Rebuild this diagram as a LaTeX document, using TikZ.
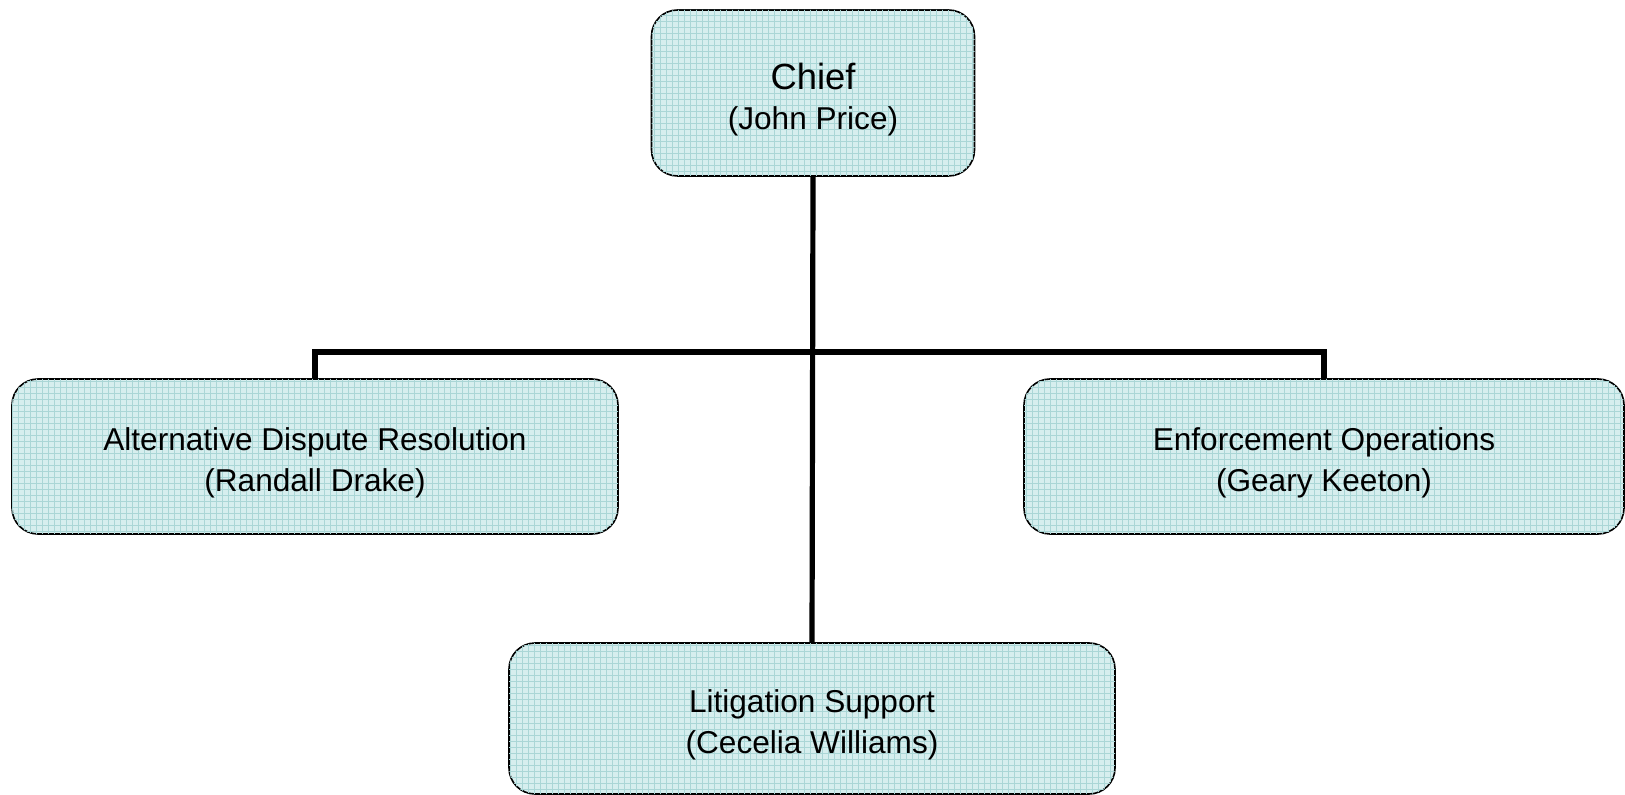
\documentclass[tikz,border=0pt]{standalone}
\usepackage{fontspec}
\setmainfont{Liberation Sans}
\usetikzlibrary{patterns}
\definecolor{boxcyan}{RGB}{214,238,238}
\definecolor{gridcyan}{RGB}{170,214,214}
\newcommand{\uplift}[1]{\rule{0pt}{#1}}
\tikzset{
	unit/.style={draw=black, line width=0.8pt, rounded corners=13pt, fill=boxcyan,
		postaction={pattern=grid, pattern color=gridcyan},
		align=center, font=\fontsize{15.8}{20.2}\selectfont, inner sep=0pt},
	wire/.style={line width=2.6pt, line join=miter}
}

\begin{document}
\begin{tikzpicture}[x=0.5pt, y=-0.5pt]
	\useasboundingbox (0,0) rectangle (1625,795);

	\node[unit, minimum width=161.5pt, minimum height=83pt] (chief) at (813,93)
		{\uplift{19.5pt}{\fontsize{18.2}{20.7}\selectfont Chief}\\(John Price)};
	\node[unit, minimum width=303pt, minimum height=77.5pt] (adr) at (315,456.5)
		{\uplift{17.7pt}Alternative Dispute Resolution\\(Randall Drake)};
	\node[unit, minimum width=300pt, minimum height=77.5pt] (enf) at (1324,456.5)
		{\uplift{17.7pt}Enforcement Operations\\(Geary Keeton)};
	\node[unit, minimum width=303pt, minimum height=75.5pt] (lit) at (812,718.5)
		{\uplift{17.7pt}Litigation Support\\(Cecelia Williams)};

	\coordinate (bar) at (813,352);

	\draw[wire] (chief.south) -- (lit.north);
	\draw[wire] (adr.north) |- (bar) -| (enf.north);
\end{tikzpicture}
\end{document}
